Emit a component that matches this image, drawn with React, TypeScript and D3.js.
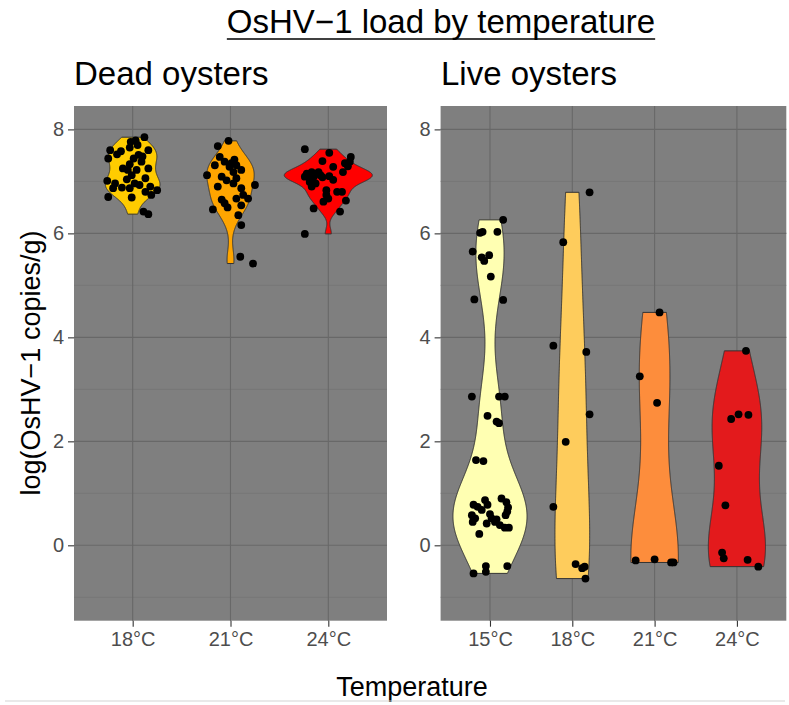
import React, { useEffect, useRef } from 'react';
import * as d3 from 'd3';

// categories and fills
const deadTemps = ['18°C', '21°C', '24°C'];
const liveTemps = ['15°C', '18°C', '21°C', '24°C'];
const deadColors = ['#FFCC00', '#FFA500', '#FF0000'];
const liveColors = ['#FFFFB2', '#FECC5C', '#FD8D3C', '#E31A1C'];
const yTicks = [0, 2, 4, 6, 8];
const yMinor = [-1, 1, 3, 5, 7];

// points: [jitter offset (category units), log(OsHV-1 copies/g)]
const dead18 = [
  [0.12, 7.85], [-0.02, 7.76], [0.03, 7.79], [-0.23, 7.6], [-0.16, 7.52], [-0.03, 7.65], [0.16, 7.6],
  [0.06, 7.51], [0.01, 7.44], [-0.25, 7.44], [0.09, 7.38], [-0.03, 7.33], [0.16, 7.25], [-0.05, 7.22],
  [0.04, 7.22], [-0.01, 7.12], [-0.06, 7.04], [-0.26, 7.01], [0.13, 7.06], [0.02, 6.96], [-0.2, 6.87],
  [-0.11, 6.88], [0.07, 6.93], [-0.03, 6.87], [0.18, 6.9], [0.25, 6.83], [0.13, 6.8], [-0.25, 6.7],
  [-0.01, 6.69], [0.19, 6.74], [0.11, 6.42], [0.16, 6.37], [-0.18, 6.96], [-0.1, 7.25],
  [0.05, 7.7], [-0.12, 7.58], [0.1, 7.48],
];
const dead21 = [
  [-0.02, 7.78], [-0.13, 7.68], [-0.11, 7.47], [-0.16, 7.31], [-0.06, 7.38], [0.01, 7.35], [0.06, 7.31],
  [0.11, 7.22], [0.03, 7.18], [-0.24, 7.12], [-0.09, 7.09], [0.06, 7.06], [-0.04, 7.02], [0.03, 6.96],
  [0.25, 6.93], [-0.13, 6.9], [0.11, 6.87], [0.13, 6.74], [0.18, 6.67], [0.06, 6.67], [-0.09, 6.65],
  [-0.06, 6.58], [-0.03, 6.5], [-0.18, 6.46], [0.11, 6.54], [0.08, 6.35], [0.11, 6.16], [0.1, 5.55],
  [0.23, 5.42], [0.04, 7.42], [-0.01, 7.28],
];
const dead24 = [
  [-0.24, 7.62], [0.01, 7.55], [0.23, 7.47], [0.22, 7.38], [-0.06, 7.39], [0.2, 7.29], [0.05, 7.28],
  [0.15, 7.18], [-0.22, 7.15], [-0.17, 7.18], [-0.1, 7.18], [-0.24, 7.09], [-0.15, 7.09], [-0.08, 7.12],
  [0.01, 7.1], [0.05, 7.03], [-0.19, 6.99], [-0.13, 6.96], [-0.17, 6.9], [-0.02, 6.83], [-0.02, 6.74],
  [0.09, 6.8], [0.14, 6.8], [-0.05, 6.61], [0.0, 6.67], [0.18, 6.63], [-0.15, 6.48], [0.12, 6.42],
  [-0.24, 5.99], [0.17, 7.35],
  [-0.2, 7.13], [-0.12, 7.15], [-0.06, 7.08], [-0.18, 7.05],
];
const live15 = [
  [0.16, 6.26], [-0.12, 6.01], [-0.09, 6.03], [0.09, 6.03], [-0.21, 5.65], [-0.1, 5.54], [-0.07, 5.47],
  [-0.01, 5.58], [0.01, 5.17], [-0.19, 4.73], [0.16, 4.72],
  [-0.22, 2.86], [0.11, 2.86], [0.18, 2.86], [-0.03, 2.49], [0.08, 2.38], [0.11, 2.35], [-0.17, 1.64],
  [-0.08, 1.62],
  [0.14, 0.9], [-0.06, 0.87], [-0.2, 0.78], [-0.15, 0.74], [-0.03, 0.78], [-0.1, 0.68], [-0.22, 0.58],
  [-0.18, 0.52], [-0.21, 0.45], [0.0, 0.6], [0.02, 0.52], [0.06, 0.45], [0.22, 0.73], [0.19, 0.58],
  [0.12, 0.39], [0.18, 0.34], [0.23, 0.34], [-0.04, 0.42], [0.2, 0.83], [0.21, 0.65], [0.08, 0.5],
  [-0.13, 0.22], [-0.2, -0.54], [-0.05, -0.4], [-0.05, -0.51], [0.21, -0.4],
];
const live18 = [
  [0.21, 6.79], [-0.11, 5.83], [-0.23, 3.84], [0.17, 3.72], [0.21, 2.52], [-0.08, 1.99], [-0.23, 0.74],
  [0.04, -0.36], [0.12, -0.44], [0.15, -0.41], [0.16, -0.64],
];
const live21 = [
  [0.06, 4.48], [-0.18, 3.25], [0.03, 2.74], [-0.23, -0.29], [0.0, -0.27], [0.2, -0.33], [0.23, -0.33],
];
const live24 = [
  [0.11, 3.74], [-0.07, 2.43], [0.02, 2.52], [0.14, 2.51], [-0.22, 1.53], [-0.14, 0.77], [-0.18, -0.14],
  [-0.16, -0.25], [0.13, -0.28], [0.26, -0.41],
];

const deadGroups = [dead18, dead21, dead24];
const liveGroups = [live15, live18, live21, live24];

const W = 789;
const H = 705;
const FONT = "'Liberation Sans', Arial, Helvetica, sans-serif";

// bw.nrd0 like R
function bwNrd0(v: number[]) {
  const s = [...v].sort(d3.ascending);
  const sd = d3.deviation(s) as number;
  const iqr = (d3.quantile(s, 0.75) as number) - (d3.quantile(s, 0.25) as number);
  const lo = Math.min(sd, iqr / 1.34) || sd || 1;
  return 0.9 * lo * Math.pow(s.length, -0.2);
}

// trimmed gaussian kde over the data range
function kde(v: number[], n = 512) {
  const bw = bwNrd0(v);
  const [lo, hi] = d3.extent(v) as [number, number];
  return d3.range(n).map(i => {
    const y = lo + ((hi - lo) * i) / (n - 1);
    const dens = d3.mean(v, x => Math.exp(-0.5 * ((y - x) / bw) ** 2) / Math.sqrt(2 * Math.PI)) as number / bw;
    return [y, dens];
  });
}

function drawPanel(g, cats, groups, colors, x0, x1, y) {
  const x = d3.scalePoint().domain(cats).range([x0, x1]).padding(0.6);
  const step = x.step();
  const [yb, yt] = y.range();

  g.append('rect').attr('x', x0).attr('y', yt).attr('width', x1 - x0).attr('height', yb - yt).attr('fill', '#7F7F7F');

  g.selectAll('.minor').data(yMinor).enter().append('line')
    .attr('x1', x0).attr('x2', x1).attr('y1', d => y(d)).attr('y2', d => y(d))
    .attr('stroke', '#737373').attr('stroke-width', 0.7);
  g.selectAll('.major').data(yTicks).enter().append('line')
    .attr('x1', x0).attr('x2', x1).attr('y1', d => y(d)).attr('y2', d => y(d))
    .attr('stroke', '#686868').attr('stroke-width', 1.1);
  g.selectAll('.vmajor').data(cats).enter().append('line')
    .attr('x1', d => x(d)).attr('x2', d => x(d)).attr('y1', yt).attr('y2', yb)
    .attr('stroke', '#686868').attr('stroke-width', 1.1);

  const dens = groups.map(pts => kde(pts.map(p => p[1])));
  const maxD = d3.max(dens, dd => d3.max(dd, d => d[1])) as number;

  dens.forEach((dd, i) => {
    const cx = x(cats[i]) as number;
    const area = d3.area()
      .y(d => y(d[0]))
      .x0(d => cx - (d[1] / maxD) * 0.45 * step)
      .x1(d => cx + (d[1] / maxD) * 0.45 * step);
    g.append('path').datum(dd).attr('d', area)
      .attr('fill', colors[i]).attr('stroke', '#333333').attr('stroke-width', 1);
  });

  groups.forEach((pts, i) => {
    const cx = x(cats[i]) as number;
    g.selectAll(null).data(pts).enter().append('circle')
      .attr('cx', d => cx + d[0] * step).attr('cy', d => y(d[1])).attr('r', 3.9).attr('fill', '#000');
  });

  // axes
  const ya = g.append('g').attr('transform', `translate(${x0},0)`)
    .call(d3.axisLeft(y).tickValues(yTicks).tickSize(6).tickPadding(4));
  ya.select('.domain').remove();
  ya.selectAll('line').attr('stroke', '#333333').attr('stroke-width', 1.1);
  ya.selectAll('text').attr('fill', '#4D4D4D').attr('font-size', 20).attr('font-family', FONT);

  const xa = g.append('g').attr('transform', `translate(0,${yb})`)
    .call(d3.axisBottom(x).tickSize(6).tickPadding(5));
  xa.select('.domain').remove();
  xa.selectAll('line').attr('stroke', '#333333').attr('stroke-width', 1.1);
  xa.selectAll('text').attr('fill', '#4D4D4D').attr('font-size', 20).attr('font-family', FONT);
}

export default function App() {
  const ref = useRef(null);

  useEffect(() => {
    const svg = d3.select(ref.current);
    svg.selectAll('*').remove();

    const y = d3.scaleLinear().domain([-1.45, 8.45]).range([620.7, 106]);

    drawPanel(svg.append('g'), deadTemps, deadGroups, deadColors, 74, 387, y);
    drawPanel(svg.append('g'), liveTemps, liveGroups, liveColors, 440.6, 786.3, y);

    // title
    const title = svg.append('text').attr('x', 441).attr('y', 33).attr('text-anchor', 'middle')
      .attr('font-size', 33).attr('font-family', FONT).attr('fill', '#000')
      .text('OsHV\u22121 load by temperature');
    const tb = (title.node() as SVGTextElement).getBBox();
    svg.append('line').attr('x1', tb.x).attr('x2', tb.x + tb.width).attr('y1', 39).attr('y2', 39)
      .attr('stroke', '#000').attr('stroke-width', 1.5);

    svg.append('text').attr('x', 74).attr('y', 85).attr('font-size', 33).attr('font-family', FONT)
      .text('Dead oysters');
    svg.append('text').attr('x', 441).attr('y', 85).attr('font-size', 33).attr('font-family', FONT)
      .text('Live oysters');

    svg.append('text').attr('x', 412).attr('y', 696).attr('text-anchor', 'middle')
      .attr('font-size', 27).attr('font-family', FONT).text('Temperature');

    svg.append('text').attr('transform', 'translate(40,363) rotate(-90)').attr('text-anchor', 'middle')
      .attr('font-size', 27).attr('font-family', FONT).text('log(OsHV\u22121 copies/g)');

    svg.append('line').attr('x1', 5).attr('x2', 785).attr('y1', 701).attr('y2', 701)
      .attr('stroke', '#D3D3D3').attr('stroke-width', 1);
  }, []);

  return (
    <svg ref={ref} width={W} height={H} style={{ position: 'absolute', left: 0, top: 0, background: '#fff' }} />
  );
}
